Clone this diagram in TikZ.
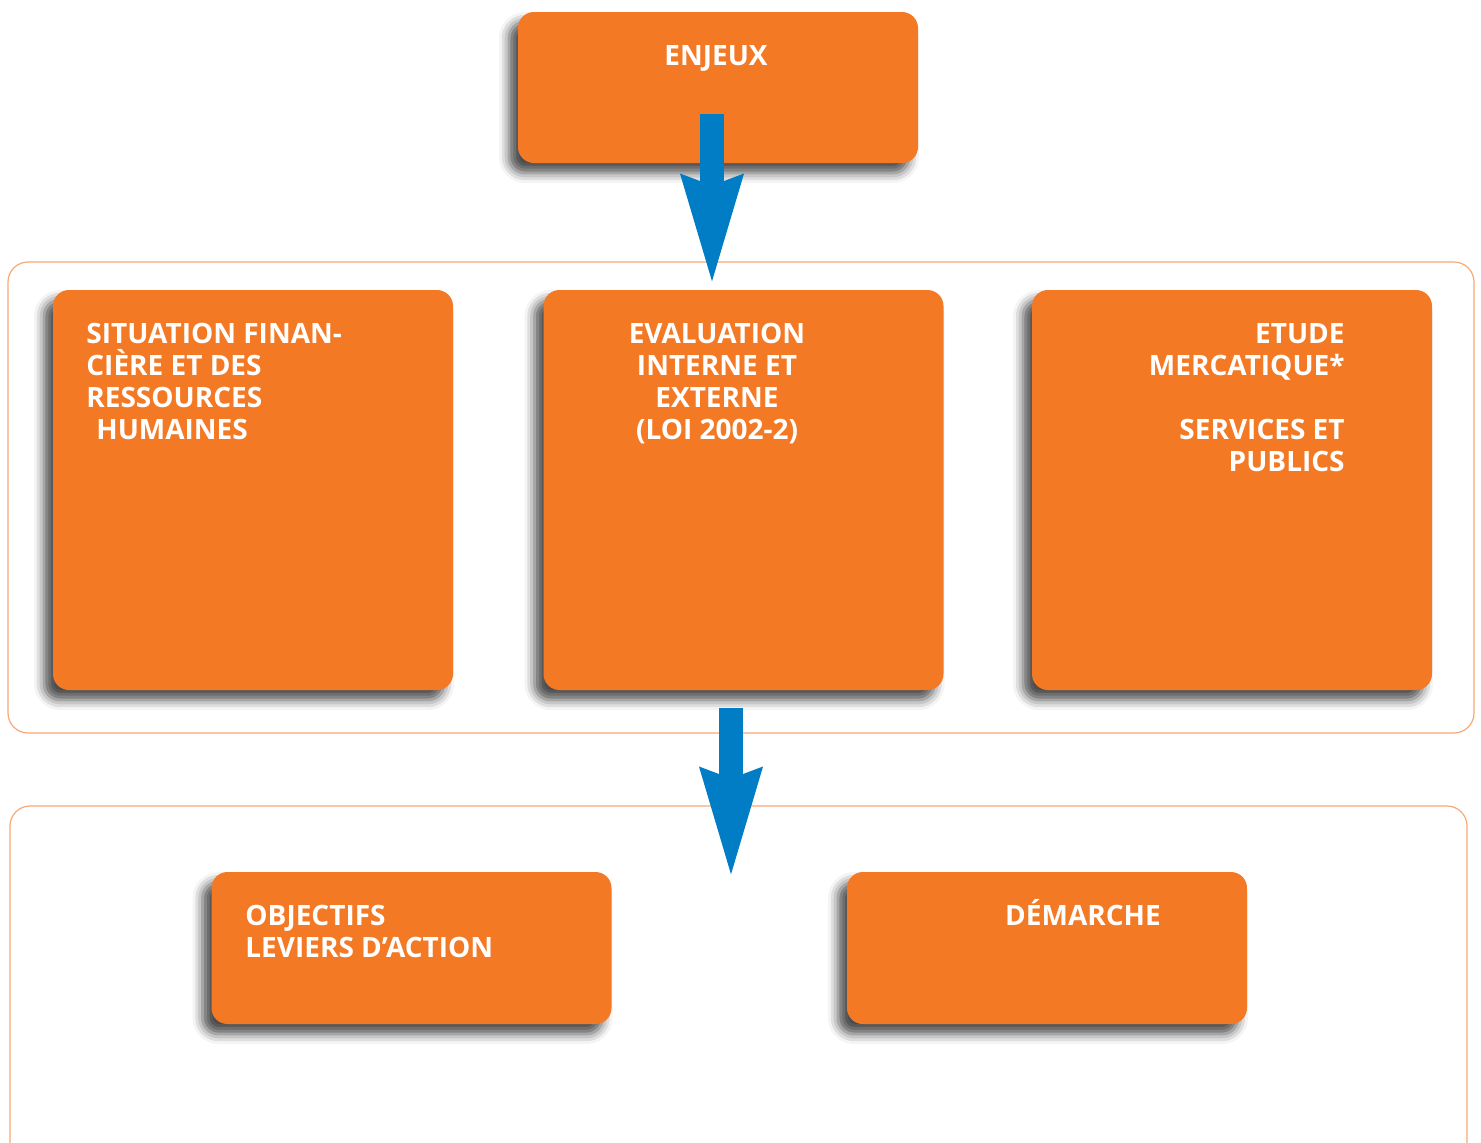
\documentclass[tikz,border=0pt]{standalone}
\usepackage{fontspec}
\setmainfont{Open Sans}
\usetikzlibrary{arrows.meta,positioning,shadows.blur}
\definecolor{boxc}{RGB}{243,121,37}
\definecolor{framec}{RGB}{248,168,115}
\definecolor{arrc}{RGB}{0,125,197}

\begin{document}
\begin{tikzpicture}[x=0.5pt,y=-0.5pt,font=\bfseries\fontsize{14}{16}\selectfont,
  box/.style={fill=boxc,rounded corners=8pt,inner sep=0pt,minimum width=200pt,
    blur shadow={shadow xshift=-4.5pt,shadow yshift=-5pt,shadow blur radius=5pt,shadow opacity=70}},
  frame/.style={draw=framec,line width=0.6pt,rounded corners=10pt},
  blockarrow/.style={arrc,line width=12pt,-{Stealth[length=54pt,width=28pt,inset=3.5pt]}},
  txt/.style={text=white,inner sep=0pt}]
\useasboundingbox (0,0) rectangle (1481,1142);
% frames
\draw[frame] (8,262) rectangle (1474,733);
\draw[frame] (10,1150) -- (10,806) -- (1467,806) -- (1467,1150);
% boxes
\node[box,minimum height=75.5pt] (enjeux) at (718,87.5) {};
\node[box,minimum height=200pt] (situ) at (253,490) {};
\node[box,minimum height=200pt] (eval) at (743.5,490) {};
\node[box,minimum height=200pt] (etude) at (1232,490) {};
\node[box,minimum height=76pt] (obj) at (411.5,948) {};
\node[box,minimum height=76pt] (dem) at (1047,948) {};
% texts
\node[txt,anchor=base] (enjeux-t) at (716,65) {ENJEUX};
\node[txt,anchor=north west,align=left] (situ-t) at (86,323)
  {SITUATION FINAN-\\CIÈRE ET DES\\RESSOURCES\\\hspace*{5pt}HUMAINES};
\node[txt,anchor=north,align=center] (eval-t) at (717,323)
  {EVALUATION\\INTERNE ET\\EXTERNE\\(LOI 2002-2)};
\node[txt,anchor=north east,align=right] (etude-t) at (1345,323)
  {ETUDE\\MERCATIQUE*\\[16pt]SERVICES ET\\PUBLICS};
\node[txt,anchor=north west,align=left] (obj-t) at (245,905)
  {OBJECTIFS\\LEVIERS D’ACTION};
\node[txt,anchor=base] (dem-t) at (1083,925) {DÉMARCHE};
% arrows
\coordinate (a1) at (712,114);
\coordinate (a1e) at (712,287);
\coordinate (a2) at (731,708);
\coordinate (a2e) at (731,880);
\draw[blockarrow] (a1) -- (a1e);
\draw[blockarrow] (a2) -- (a2e);
\end{tikzpicture}
\end{document}
